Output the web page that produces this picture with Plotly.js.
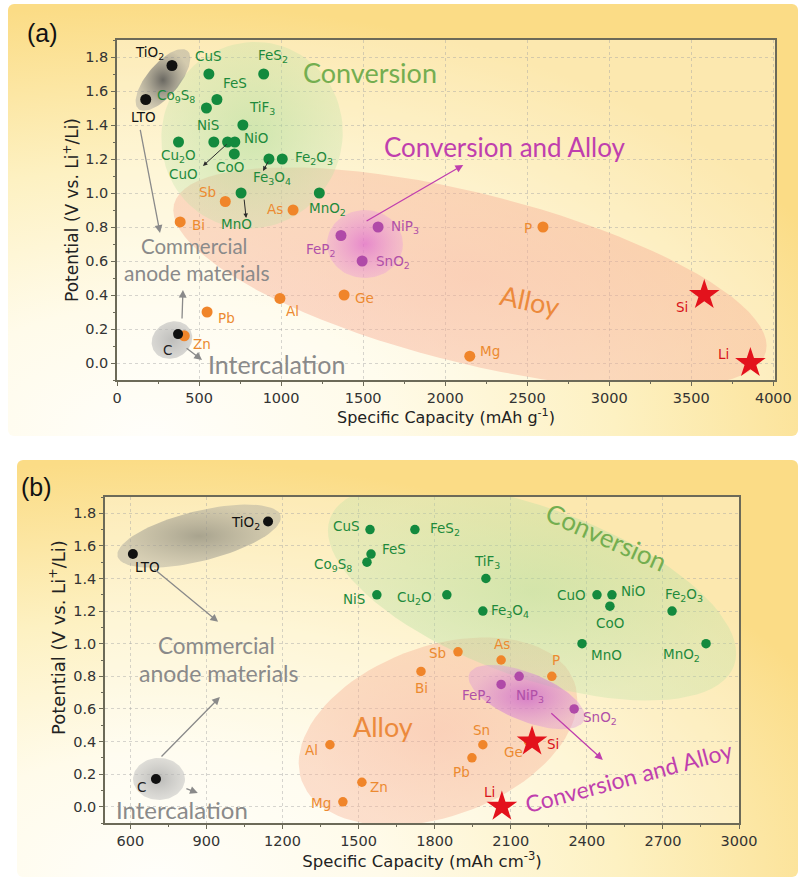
<!DOCTYPE html>
<html>
<head>
<meta charset="utf-8">
<script src="https://cdn.plot.ly/plotly-3.0.1.min.js"></script>
<style>
  html, body { margin: 0; padding: 0; background: #ffffff; }
  #wrap { position: relative; width: 798px; height: 877px; overflow: hidden; background: #fff; }
  .panel { position: absolute; border-radius: 6px; }
  #bgA { left: 8px; top: 4px; width: 790px; height: 432px;
    background: radial-gradient(ellipse 95% 100% at 18% 100%, #fffefa 0%, #fffbea 30%, #fdf1c2 62%, #fbdc86 100%); }
  #bgB { left: 17px; top: 460px; width: 781px; height: 417px;
    background: radial-gradient(ellipse 95% 100% at 18% 100%, #fffefa 0%, #fffbea 30%, #fdf1c2 62%, #fbdc86 100%); }
  #chart { position: absolute; left: 0; top: 0; width: 798px; height: 877px; }
</style>
</head>
<body>
<div id="wrap">
  <div id="bgA" class="panel"></div>
  <div id="bgB" class="panel"></div>
  <div id="chart"></div>
</div>
<script>
// ---------- (a) gravimetric capacity (mAh/g) vs. potential (V vs. Li+/Li) ----------
const gravCommercialNames = ['TiO2', 'LTO'];
const gravCommercialCap   = [335, 175];
const gravCommercialPot   = [1.75, 1.55];

const gravIntercalationNames = ['C'];
const gravIntercalationCap   = [372];
const gravIntercalationPot   = [0.17];

const gravConversionNames = ['CuS', 'FeS2', 'FeS', 'Co9S8', 'TiF3', 'NiS', 'Cu2O', 'CuO', 'NiO', 'CoO', 'Fe3O4', 'Fe2O3', 'MnO', 'MnO2'];
const gravConversionCap   = [560, 894, 609, 545, 767, 590, 375, 674, 718, 715, 926, 1007, 756, 1233];
const gravConversionPot   = [1.7, 1.7, 1.55, 1.5, 1.4, 1.3, 1.3, 1.3, 1.3, 1.23, 1.2, 1.2, 1.0, 1.0];

const gravAlloyNames = ['Sb', 'As', 'Bi', 'Ge', 'Al', 'Pb', 'Zn', 'P', 'Mg'];
const gravAlloyCap   = [660, 1073, 385, 1384, 993, 549, 410, 2596, 2150];
const gravAlloyPot   = [0.95, 0.9, 0.83, 0.4, 0.38, 0.3, 0.16, 0.8, 0.04];

const gravMixedNames = ['FeP2', 'NiP3', 'SnO2'];
const gravMixedCap   = [1365, 1591, 1494];
const gravMixedPot   = [0.75, 0.8, 0.6];

const gravStarNames = ['Si', 'Li'];
const gravStarCap   = [3579, 3860];
const gravStarPot   = [0.4, 0.0];

// ---------- (b) volumetric capacity (mAh/cm3) vs. potential ----------
const volCommercialNames = ['TiO2', 'LTO'];
const volCommercialCap   = [1143, 610];
const volCommercialPot   = [1.75, 1.55];

const volIntercalationNames = ['C'];
const volIntercalationCap   = [701];
const volIntercalationPot   = [0.17];

const volConversionNames = ['CuS', 'FeS2', 'FeS', 'Co9S8', 'TiF3', 'NiS', 'Cu2O', 'CuO', 'NiO', 'CoO', 'Fe3O4', 'Fe2O3', 'MnO', 'MnO2'];
const volConversionCap   = [1545, 1722, 1549, 1533, 2002, 1572, 1848, 2440, 2499, 2491, 1990, 2736, 2381, 2870];
const volConversionPot   = [1.7, 1.7, 1.55, 1.5, 1.4, 1.3, 1.3, 1.3, 1.3, 1.23, 1.2, 1.2, 1.0, 1.0];

const volAlloyNames = ['Sb', 'As', 'Bi', 'P', 'Sn', 'Pb', 'Ge', 'Al', 'Zn', 'Mg'];
const volAlloyCap   = [1892, 2062, 1746, 2262, 1990, 1947, 2170, 1387, 1513, 1438];
const volAlloyPot   = [0.95, 0.9, 0.83, 0.8, 0.38, 0.3, 0.4, 0.38, 0.15, 0.03];

const volMixedNames = ['FeP2', 'NiP3', 'SnO2'];
const volMixedCap   = [2062, 2133, 2350];
const volMixedPot   = [0.75, 0.8, 0.6];

const volStarNames = ['Si', 'Li'];
const volStarCap   = [2184, 2065];
const volStarPot   = [0.4, 0.0];

// ---------- axis tick setup ----------
const gravTickStep = 500;
const volTickStep = 300;
const potTickStep = 0.2;

// ---------- layout geometry ----------
const W = 798, H = 877;
const domA = { x: [117 / W, 775 / W], y: [1 - 380 / H, 1 - 40 / H] };
const domB = { x: [105 / W, 739 / W], y: [1 - 823 / H, 1 - 497 / H] };
const rangeA = { x: [0, 4010], y: [-0.1, 1.9] };
const rangeB = { x: [500, 3000], y: [-0.1, 1.9] };

function scaleOf(dom, rng) {
  return {
    kx: (dom.x[1] - dom.x[0]) * W / (rng.x[1] - rng.x[0]),
    ky: (dom.y[1] - dom.y[0]) * H / (rng.y[1] - rng.y[0])
  };
}
const scA = scaleOf(domA, rangeA);
const scB = scaleOf(domB, rangeB);

// label offsets in pixels (dx right, dy down) from the marker centre
const labelShiftA = {
  'TiO2': [-22, -12], 'LTO': [-2, 18], 'CuS': [0, -18], 'FeS2': [9, -18], 'FeS': [18, -16],
  'Co9S8': [-30, -12], 'TiF3': [19, -17], 'NiS': [-6, -17], 'Cu2O': [0, 14], 'CuO': [-44, 32],
  'NiO': [21, -4], 'CoO': [-4, 13], 'Fe3O4': [3, 19], 'Fe2O3': [32, -1], 'MnO': [-5, 31],
  'MnO2': [8, 16], 'Sb': [-18, -9], 'As': [-18, -1], 'Bi': [18, 3], 'FeP2': [-20, 15],
  'NiP3': [27, 0], 'SnO2': [31, 1], 'Ge': [20, 3], 'Al': [13, 13], 'Pb': [19, 6],
  'C': [-11, 16], 'Zn': [18, 8], 'P': [-15, 1], 'Mg': [20, -5], 'Si': [-22, 12], 'Li': [-27, -9]
};
const labelShiftB = {
  'TiO2': [-23, 2], 'LTO': [15, 13], 'CuS': [-24, -4], 'FeS2': [30, -1], 'FeS': [23, -5],
  'Co9S8': [-34, 3], 'NiS': [-23, 4], 'Cu2O': [-32, 3], 'TiF3': [1, -17], 'Fe3O4': [27, 0],
  'CuO': [-25, 0], 'NiO': [21, -4], 'CoO': [0, 17], 'Fe2O3': [12, -16], 'MnO': [24, 11],
  'MnO2': [-25, 11], 'Sb': [-21, 1], 'As': [1, -16], 'Bi': [1, 17], 'P': [4, -16],
  'FeP2': [-24, 12], 'NiP3': [11, 20], 'SnO2': [26, 9], 'Sn': [-1, -15], 'Pb': [-10, 14],
  'Ge': [-15, 10], 'Si': [21, 2], 'Li': [-12, -15], 'Al': [-18, 5], 'Zn': [17, 5],
  'Mg': [-22, 1], 'C': [-14, 8]
};

const FONT = 'DejaVu Sans, Liberation Sans, Arial, sans-serif';
const FONT_LETTER = 'Liberation Sans, Arial, sans-serif';
const FONT_SOFT = 'Lato, Open Sans, sans-serif';

const colors = {
  commercial: { dot: '#111111', text: '#111111' },
  intercal:   { dot: '#111111', text: '#222222' },
  conversion: { dot: '#138a3e', text: '#1e8a3c' },
  alloy:      { dot: '#f0852a', text: '#ec8a30' },
  mixed:      { dot: '#b04aa8', text: '#b050a8' },
  star:       { dot: '#e3121c', text: '#d8141c' }
};

const chem = s => s.replace(/(\d+)/g, '<sub>$1</sub>');

// ---------- region ellipses (centre in data units, radii in px, angle ccw in degrees) ----------
function ellipseTrace(sc, xa, ya, r) {
  const phi = r.phi * Math.PI / 180;
  const xs = [], ys = [];
  const n = 90;
  for (let i = 0; i <= n; i++) {
    const t = 2 * Math.PI * i / n;
    const px = r.a * Math.cos(t) * Math.cos(phi) - r.b * Math.sin(t) * Math.sin(phi);
    const py = r.a * Math.cos(t) * Math.sin(phi) + r.b * Math.sin(t) * Math.cos(phi);
    xs.push(r.cx + px / sc.kx);
    ys.push(r.cy + py / sc.ky);
  }
  return {
    type: 'scatter', mode: 'lines', x: xs, y: ys, xaxis: xa, yaxis: ya,
    fill: 'toself', fillcolor: r.c1, line: { width: 0 }, hoverinfo: 'skip', showlegend: false,
    fillgradient: { type: 'radial', colorscale: [[0, r.c0], [1, r.c1]] }
  };
}

const regionsA = [
  { cx: 2151, cy: 0.50, a: 305, b: 85, phi: -14, c0: 'rgba(247,170,148,0.50)', c1: 'rgba(247,175,150,0.42)' },
  { cx: 823, cy: 1.34, a: 90, b: 94, phi: -25, c0: 'rgba(170,220,150,0.55)', c1: 'rgba(185,225,165,0.30)' },
  { cx: 1511, cy: 0.70, a: 38, b: 34, phi: 0, c0: 'rgba(220,95,210,0.65)', c1: 'rgba(232,150,222,0.35)' },
  { cx: 280, cy: 1.665, a: 38, b: 16, phi: 50, c0: 'rgba(80,80,80,0.85)', c1: 'rgba(150,150,150,0.40)' },
  { cx: 335, cy: 0.135, a: 21, b: 18, phi: 30, c0: 'rgba(170,170,170,0.75)', c1: 'rgba(185,185,185,0.55)' }
];
const regionsB = [
  { cx: 1813, cy: 0.462, a: 145, b: 85, phi: 20, c0: 'rgba(247,170,148,0.50)', c1: 'rgba(247,178,150,0.40)' },
  { cx: 2184, cy: 1.317, a: 215, b: 85, phi: -20, c0: 'rgba(170,220,150,0.50)', c1: 'rgba(185,225,165,0.32)' },
  { cx: 2163, cy: 0.673, a: 62, b: 24, phi: -22, c0: 'rgba(200,90,205,0.70)', c1: 'rgba(220,150,220,0.40)' },
  { cx: 871, cy: 1.66, a: 84, b: 25, phi: 14, c0: 'rgba(140,138,125,0.75)', c1: 'rgba(175,172,160,0.50)' },
  { cx: 713, cy: 0.17, a: 26, b: 21, phi: 0, c0: 'rgba(165,165,165,0.75)', c1: 'rgba(190,190,190,0.50)' }
];

// ---------- marker traces ----------
function pointTrace(xa, ya, names, xs, ys, c, symbol, size) {
  return {
    type: 'scatter', mode: 'markers', x: xs, y: ys, xaxis: xa, yaxis: ya,
    text: names, hoverinfo: 'text+x+y', showlegend: false, cliponaxis: false,
    marker: { color: c.dot, size: size, symbol: symbol, line: { width: 0 } }
  };
}

function labelAnns(xr, yr, names, xs, ys, c, shifts) {
  return names.map((n, i) => {
    const s = shifts[n] || [0, -14];
    return {
      xref: xr, yref: yr, x: xs[i], y: ys[i], text: chem(n), showarrow: false,
      xanchor: 'center', yanchor: 'middle', xshift: s[0], yshift: -s[1],
      font: { family: FONT, size: 13.5, color: c.text }
    };
  });
}

function arrowAnn(xr, yr, x0, y0, x1, y1, color, width, size) {
  return {
    xref: xr, yref: yr, axref: xr, ayref: yr, x: x1, y: y1, ax: x0, ay: y0,
    text: '', showarrow: true, arrowhead: 2, arrowsize: size, arrowwidth: width, arrowcolor: color
  };
}

function textAnn(xr, yr, x, y, text, size, color, angle) {
  return {
    xref: xr, yref: yr, x: x, y: y, text: text, showarrow: false,
    xanchor: 'center', yanchor: 'middle', textangle: angle || 0,
    font: { family: FONT_SOFT, size: size, color: color }
  };
}

const traces = [];
regionsA.forEach(r => traces.push(ellipseTrace(scA, 'x', 'y', r)));
regionsB.forEach(r => traces.push(ellipseTrace(scB, 'x2', 'y2', r)));

traces.push(pointTrace('x', 'y', gravConversionNames, gravConversionCap, gravConversionPot, colors.conversion, 'circle', 11));
traces.push(pointTrace('x', 'y', gravAlloyNames, gravAlloyCap, gravAlloyPot, colors.alloy, 'circle', 11));
traces.push(pointTrace('x', 'y', gravMixedNames, gravMixedCap, gravMixedPot, colors.mixed, 'circle', 11));
traces.push(pointTrace('x', 'y', gravIntercalationNames, gravIntercalationCap, gravIntercalationPot, colors.intercal, 'circle', 10));
traces.push(pointTrace('x', 'y', gravCommercialNames, gravCommercialCap, gravCommercialPot, colors.commercial, 'circle', 11));
traces.push(pointTrace('x', 'y', gravStarNames, gravStarCap, gravStarPot, colors.star, 'star', 23));

traces.push(pointTrace('x2', 'y2', volConversionNames, volConversionCap, volConversionPot, colors.conversion, 'circle', 9.5));
traces.push(pointTrace('x2', 'y2', volAlloyNames, volAlloyCap, volAlloyPot, colors.alloy, 'circle', 9.5));
traces.push(pointTrace('x2', 'y2', volMixedNames, volMixedCap, volMixedPot, colors.mixed, 'circle', 9.5));
traces.push(pointTrace('x2', 'y2', volIntercalationNames, volIntercalationCap, volIntercalationPot, colors.intercal, 'circle', 10));
traces.push(pointTrace('x2', 'y2', volCommercialNames, volCommercialCap, volCommercialPot, colors.commercial, 'circle', 10));
traces.push(pointTrace('x2', 'y2', volStarNames, volStarCap, volStarPot, colors.star, 'star', 23));

// ---------- annotations ----------
const anns = [];
[[gravCommercialNames, gravCommercialCap, gravCommercialPot, colors.commercial],
 [gravIntercalationNames, gravIntercalationCap, gravIntercalationPot, colors.intercal],
 [gravConversionNames, gravConversionCap, gravConversionPot, colors.conversion],
 [gravAlloyNames, gravAlloyCap, gravAlloyPot, colors.alloy],
 [gravMixedNames, gravMixedCap, gravMixedPot, colors.mixed],
 [gravStarNames, gravStarCap, gravStarPot, colors.star]
].forEach(g => anns.push(...labelAnns('x', 'y', g[0], g[1], g[2], g[3], labelShiftA)));

[[volCommercialNames, volCommercialCap, volCommercialPot, colors.commercial],
 [volIntercalationNames, volIntercalationCap, volIntercalationPot, colors.intercal],
 [volConversionNames, volConversionCap, volConversionPot, colors.conversion],
 [volAlloyNames, volAlloyCap, volAlloyPot, colors.alloy],
 [volMixedNames, volMixedCap, volMixedPot, colors.mixed],
 [volStarNames, volStarCap, volStarPot, colors.star]
].forEach(g => anns.push(...labelAnns('x2', 'y2', g[0], g[1], g[2], g[3], labelShiftB)));

const GREY = '#8a8a8a', GREEN = '#74ae50', PINK = '#c03fae', ORANGE = '#ec8a3c', DARK = '#2a2a2a';

// panel (a) captions and pointers
anns.push(textAnn('x', 'y', 1543, 1.706, 'Conversion', 27, GREEN));
anns.push(textAnn('x', 'y', 2366, 1.27, 'Conversion and Alloy', 26, PINK));
anns.push(textAnn('x', 'y', 2518, 0.37, 'Alloy', 27, ORANGE, 12));
anns.push(textAnn('x', 'y', 470, 0.688, 'Commercial', 20.5, GREY));
anns.push(textAnn('x', 'y', 488, 0.535, 'anode materials', 21, GREY));
anns.push(textAnn('x', 'y', 970, -0.005, 'Intercalation', 25, GREY));
anns.push(arrowAnn('x', 'y', 140, 1.38, 262, 0.765, GREY, 1.3, 1.2));
anns.push(arrowAnn('x', 'y', 396, 0.253, 402, 0.43, GREY, 1.3, 1.2));
anns.push(arrowAnn('x', 'y', 415, 0.094, 518, 0.018, GREY, 1.3, 1.2));
anns.push(arrowAnn('x', 'y', 677, 1.294, 524, 1.159, DARK, 1, 0.9));
anns.push(arrowAnn('x', 'y', 927, 1.194, 890, 1.13, DARK, 1, 0.9));
anns.push(arrowAnn('x', 'y', 774, 0.97, 787, 0.853, DARK, 1, 0.9));
anns.push(arrowAnn('x', 'y', 1512, 0.83, 2110, 1.165, PINK, 1.3, 1.2));

// panel (b) captions and pointers
anns.push(textAnn('x2', 'y2', 2479, 1.655, 'Conversion', 26, GREEN, 24));
anns.push(textAnn('x2', 'y2', 938, 0.992, 'Commercial', 22.5, GREY));
anns.push(textAnn('x2', 'y2', 949, 0.82, 'anode materials', 23, GREY));
anns.push(textAnn('x2', 'y2', 804, -0.02, 'Intercalation', 24, GREY));
anns.push(textAnn('x2', 'y2', 1596, 0.489, 'Alloy', 27, ORANGE));
anns.push(textAnn('x2', 'y2', 2563, 0.183, 'Conversion and Alloy', 23, PINK, -15));
anns.push(arrowAnn('x2', 'y2', 689, 1.465, 946, 1.134, GREY, 1.3, 1.2));
anns.push(arrowAnn('x2', 'y2', 717, 0.299, 953, 0.673, GREY, 1.3, 1.2));
anns.push(arrowAnn('x2', 'y2', 815, 0.115, 866, 0.084, GREY, 1.3, 1.2));
anns.push(arrowAnn('x2', 'y2', 2254, 0.581, 2463, 0.287, PINK, 1.3, 1.2));

// panel letters
anns.push({ xref: 'paper', yref: 'paper', x: 42 / W, y: 1 - 33 / H, text: '(a)', showarrow: false,
  xanchor: 'center', yanchor: 'middle', font: { family: FONT_LETTER, size: 25, color: '#111' } });
anns.push({ xref: 'paper', yref: 'paper', x: 36 / W, y: 1 - 487 / H, text: '(b)', showarrow: false,
  xanchor: 'center', yanchor: 'middle', font: { family: FONT_LETTER, size: 25, color: '#111' } });

// ---------- axes ----------
const axisCommon = {
  showline: true, mirror: true, linecolor: '#6c6a58', linewidth: 1.5,
  ticks: 'outside', ticklen: 4, tickcolor: '#6c6a58', tickwidth: 1,
  tickfont: { family: FONT, size: 14.5, color: '#333' },
  showgrid: true, gridcolor: 'rgba(165,165,165,0.45)', griddash: 'dot', gridwidth: 1,
  zeroline: false, automargin: false, fixedrange: true
};
const titleFont = { family: FONT, size: 16.5, color: '#222' };
const potTitle = 'Potential (V vs. Li<sup>+</sup>/Li)';

// the lower panel's potential label sits a little above the axis centre
anns.push({ xref: 'paper', yref: 'paper', x: 57 / W, y: 1 - 638 / H, text: potTitle, showarrow: false,
  textangle: -90, xanchor: 'center', yanchor: 'middle', font: { family: FONT, size: 18, color: '#222' } });

const layout = {
  width: W, height: H,
  margin: { l: 0, r: 0, t: 0, b: 0 },
  paper_bgcolor: 'rgba(0,0,0,0)',
  plot_bgcolor: 'rgba(255,255,252,0.35)',
  showlegend: false,
  hovermode: 'closest',
  xaxis: Object.assign({}, axisCommon, {
    domain: domA.x, range: rangeA.x, anchor: 'y', tick0: 0, dtick: gravTickStep,
    minor: { ticks: 'outside', ticklen: 2.5, dtick: gravTickStep / 2, tickcolor: '#6c6a58', showgrid: false },
    title: { text: 'Specific Capacity (mAh g<sup>-1</sup>)', font: Object.assign({}, titleFont, { size: 16 }), standoff: 4 }
  }),
  yaxis: Object.assign({}, axisCommon, {
    domain: domA.y, range: rangeA.y, anchor: 'x', tick0: 0, dtick: potTickStep, tickformat: '.1f',
    minor: { ticks: 'outside', ticklen: 2.5, dtick: potTickStep / 2, tickcolor: '#6c6a58', showgrid: false },
    title: { text: potTitle, font: Object.assign({}, titleFont, { size: 17 }), standoff: 2 }
  }),
  xaxis2: Object.assign({}, axisCommon, {
    domain: domB.x, range: rangeB.x, anchor: 'y2', tick0: 0, dtick: volTickStep,
    minor: { ticks: 'outside', ticklen: 2.5, dtick: volTickStep / 2, tickcolor: '#6c6a58', showgrid: false },
    title: { text: 'Specific Capacity (mAh cm<sup>-3</sup>)', font: titleFont, standoff: 4 }
  }),
  yaxis2: Object.assign({}, axisCommon, {
    domain: domB.y, range: rangeB.y, anchor: 'x2', tick0: 0, dtick: potTickStep, tickformat: '.1f',
    minor: { ticks: 'outside', ticklen: 2.5, dtick: potTickStep / 2, tickcolor: '#6c6a58', showgrid: false }
  }),
  annotations: anns
};

Plotly.newPlot('chart', traces, layout, { displayModeBar: false, staticPlot: false });
</script>
</body>
</html>
